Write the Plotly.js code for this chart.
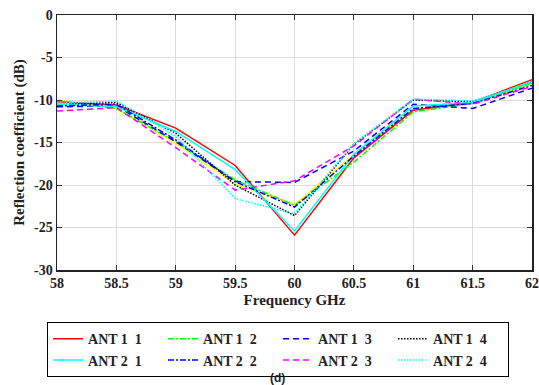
<!DOCTYPE html>
<html>
<head>
<meta charset="utf-8">
<script src="https://cdn.plot.ly/plotly-3.0.1.min.js"></script>
<style>html,body{margin:0;padding:0;background:#fff;}#chart{width:539px;height:385px;}</style>
</head>
<body>
<div id="chart"></div>
<script>
const freq = [58, 58.5, 59, 59.5, 60, 60.5, 61, 61.5, 62];
const ant11 = [-10.2, -10.6, -13.3, -17.7, -25.9, -16.8, -11.2, -10.3, -7.6];
const ant12 = [-10.1, -11.0, -14.9, -19.4, -22.4, -17.3, -11.4, -10.4, -8.0];
const ant13 = [-10.8, -10.7, -14.9, -19.6, -19.7, -16.0, -10.5, -11.0, -8.6];
const ant14 = [-10.5, -10.3, -13.9, -20.0, -23.6, -15.2, -10.0, -10.2, -7.9];
const ant21 = [-10.5, -10.8, -13.7, -18.2, -25.4, -16.4, -10.7, -10.3, -7.8];
const ant22 = [-10.7, -10.5, -14.7, -19.6, -22.6, -16.6, -11.0, -10.4, -8.3];
const ant23 = [-11.3, -10.9, -15.6, -20.6, -19.5, -15.4, -9.9, -10.5, -8.4];
const ant24 = [-10.4, -10.1, -14.3, -21.6, -23.4, -15.1, -9.9, -10.1, -8.0];
const extraYellow = [-10.0, -11.0, -15.1, -19.9, -22.3, -16.4, -11.1, -10.3, -8.1];
const names = ["ANT 1\u00a0\u00a01", "ANT 1\u00a0\u00a02", "ANT 1\u00a0\u00a03", "ANT 1\u00a0\u00a04",
               "ANT 2\u00a0\u00a01", "ANT 2\u00a0\u00a02", "ANT 2\u00a0\u00a03", "ANT 2\u00a0\u00a04"];
const xTicks = [58, 58.5, 59, 59.5, 60, 60.5, 61, 61.5, 62];
const yTicks = [0, -5, -10, -15, -20, -25, -30];

const series = [ant11, ant12, ant13, ant14, ant21, ant22, ant23, ant24];
const styles = [
  {color: '#ff0000', dash: 'solid'},
  {color: '#00ff00', dash: '6px,2px,2px,2px'},
  {color: '#0000ff', dash: '6px,4px'},
  {color: '#000000', dash: '1.5px,1.5px'},
  {color: '#00ffff', dash: 'solid'},
  {color: '#0000ff', dash: '6px,2px,2px,2px'},
  {color: '#ff00ff', dash: '6px,4px'},
  {color: '#00ffff', dash: '1.5px,1.5px'}
];

const traces = [{x: freq, y: extraYellow, type: 'scatter', mode: 'lines', showlegend: false,
  line: {color: '#ffff00', width: 1.5}, hoverinfo: 'skip'}];
series.forEach((s, i) => {
  traces.push({x: freq, y: s, type: 'scatter', mode: 'lines', name: names[i],
    line: {color: styles[i].color, dash: styles[i].dash, width: 1.5}});
});

const serif = '"Liberation Serif", "Times New Roman", Times, serif';
const tickFont = {family: serif, size: 14, color: '#222', weight: 'bold'};
const layout = {
  width: 539, height: 385,
  margin: {l: 57, r: 7, t: 15, b: 115, autoexpand: false},
  paper_bgcolor: '#fff', plot_bgcolor: '#fff',
  showlegend: true,
  xaxis: {
    range: [58, 62], tickvals: xTicks, ticktext: xTicks.map(String),
    ticks: 'inside', ticklen: 5, tickcolor: '#333', mirror: 'ticks',
    showline: true, linecolor: '#222', linewidth: 1.5,
    showgrid: true, gridcolor: '#dcdcdc', gridwidth: 1, zeroline: false,
    tickfont: tickFont,
    title: {text: 'Frequency GHz', font: {family: serif, size: 15, color: '#222', weight: 'bold'}, standoff: 4}
  },
  yaxis: {
    range: [-30, 0], tickvals: yTicks, ticktext: yTicks.map(String),
    ticks: 'inside', ticklen: 5, tickcolor: '#333', mirror: 'ticks',
    showline: true, linecolor: '#222', linewidth: 1.5,
    showgrid: true, gridcolor: '#dcdcdc', gridwidth: 1, zeroline: false,
    tickfont: tickFont,
    title: {text: 'Reflection coefficient (dB)', font: {family: serif, size: 15, color: '#222', weight: 'bold'}, standoff: 6}
  },
  legend: {
    orientation: 'h', x: -0.021, xanchor: 'left', y: -0.205, yanchor: 'top',
    bordercolor: '#000', borderwidth: 1, bgcolor: '#fff',
    entrywidth: 70, entrywidthmode: 'pixels', tracegroupgap: 0,
    font: {family: serif, size: 14, color: '#222', weight: 'bold'}
  },
  annotations: [{
    text: '(d)', xref: 'paper', yref: 'paper', x: 0.465, y: -0.422,
    xanchor: 'center', yanchor: 'middle', showarrow: false,
    font: {family: 'Liberation Sans, Arial, sans-serif', size: 12, color: '#222', weight: 'bold'}
  }]
};
Plotly.newPlot('chart', traces, layout, {displayModeBar: false, staticPlot: true});
</script>
</body>
</html>
